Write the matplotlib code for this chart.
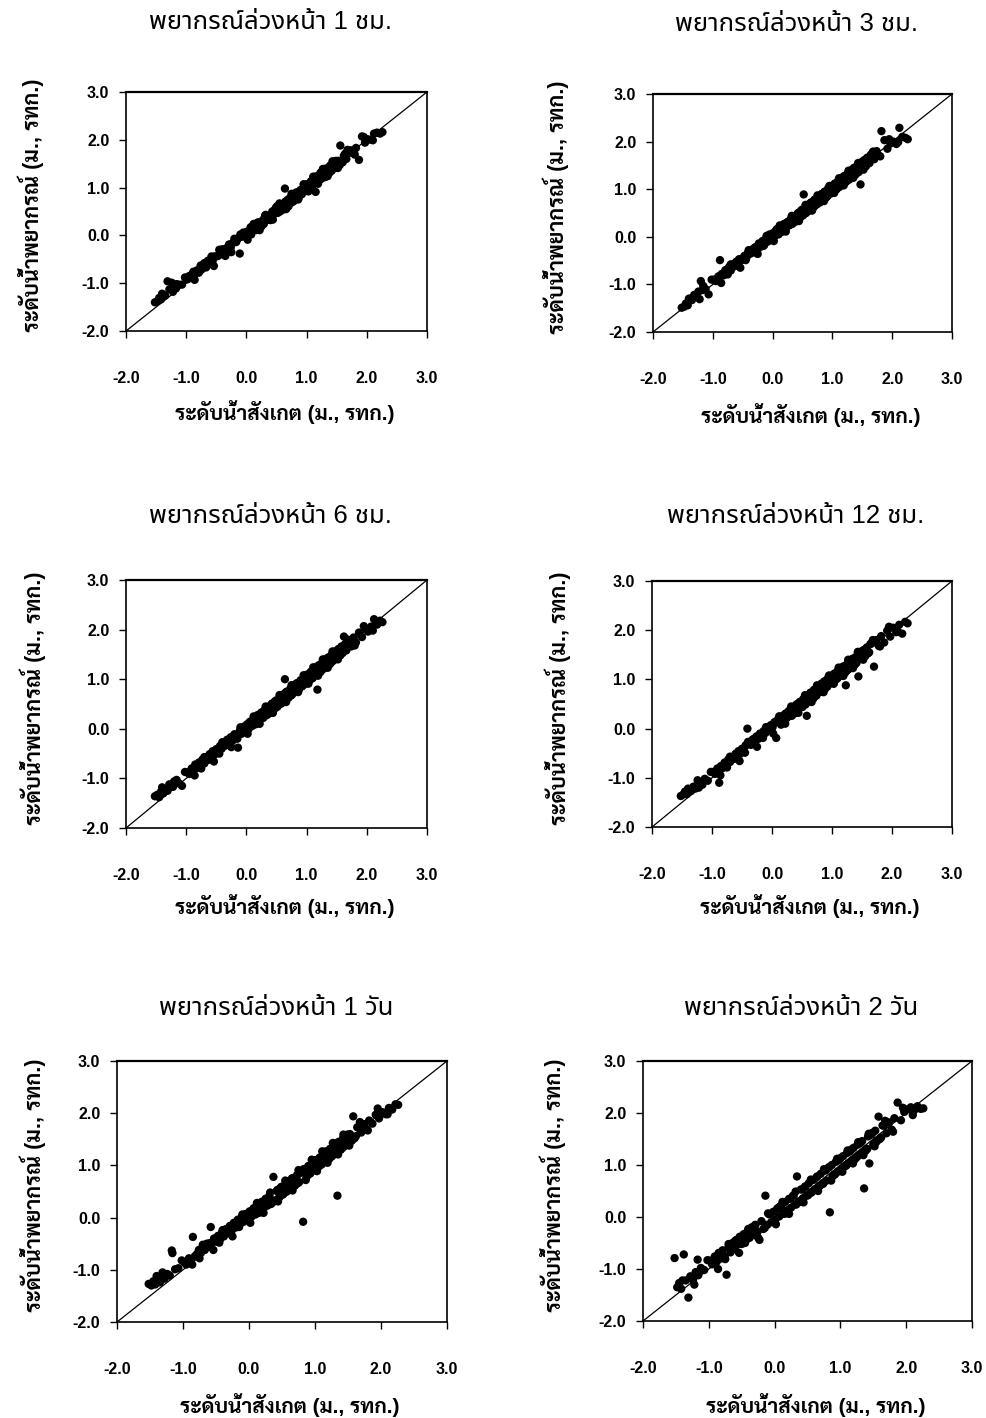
import matplotlib
matplotlib.use("Agg")
import matplotlib.pyplot as plt

# Observed water level (m, MSL) shared by all forecast horizons
obs_level = [
    -1.52, -1.48, -1.45, -1.42, -1.38, -1.35, -1.31, -1.28, -1.24, -1.20, -1.17, -1.16, -1.12, -1.07,
    -0.98, -0.95, -0.91, -0.88, -0.85, -0.82, -0.79, -0.76, -0.73, -0.70, -0.67, -0.64, -0.61, -0.58, -0.56, -0.53, -0.50,
    -0.47, -0.44, -0.41, -0.38, -0.35, -0.32, -0.29, -0.26, -0.23, -0.20, -0.17, -0.14, -0.11, -0.08, -0.05, -0.02,
    0.01, 0.04, 0.07, 0.10, 0.13, 0.16, 0.19, 0.22, 0.25, 0.28, 0.31, 0.34, 0.37, 0.40, 0.43, 0.46, 0.49,
    0.52, 0.55, 0.58, 0.61, 0.64, 0.67, 0.70, 0.73, 0.76, 0.79, 0.82, 0.84, 0.87, 0.90, 0.93, 0.96, 0.99,
    1.02, 1.04, 1.07, 1.10, 1.12, 1.15, 1.18, 1.20, 1.23, 1.26, 1.28, 1.31, 1.34, 1.36, 1.39, 1.42, 1.44, 1.47, 1.50,
    1.53, 1.56, 1.58, 1.62, 1.66, 1.70, 1.74, 1.78, 1.82, 1.87, 1.92, 1.97,
    2.02, 2.07, 2.12, 2.17, 2.22, 2.26,
    0.05, 0.15, 0.24, 0.33, 0.42, 0.51, 0.60, 0.69, 0.78, 0.88, 0.97, 1.05, 1.14, 1.22, 1.30, 1.38, 1.46, 1.55, 1.64,
    -0.90, -0.75, -0.60, -0.45, -0.30, -0.15,
    0.08, 0.20, 0.29, 0.38, 0.47, 0.56, 0.65, 0.74, 0.83, 0.92, 1.00, 1.09, 1.17, 1.25, 1.33, 1.41, 1.49, 1.60, -0.35, -0.65,
    -1.40, -1.22, -1.02, -0.86, -0.70, -0.54, -0.40, -0.25, -0.10, 0.02, 0.12, 0.22, 0.32, 0.44, 0.55,
    0.66, 0.75, 0.86, 0.95, 1.03, 1.11, 1.19, 1.27, 1.35, 1.43, 1.52, 1.68, 1.80, 1.95, 2.10,
]

# Forecast water level for each lead time (same order as obs_level)
fc_1h = [
    -1.40, -1.38, -1.31, -1.34, -1.25, -1.26, -0.96, -1.13, -0.99, -1.09, -1.11, -1.02, -1.03, -1.03,
    -0.92, -0.85, -0.89, -0.76, -0.80, -0.73, -0.78, -0.63, -0.69, -0.62, -0.67, -0.53, -0.56, -0.44, -0.53, -0.44, -0.44,
    -0.43, -0.32, -0.39, -0.30, -0.43, -0.26, -0.19, -0.25, -0.16, -0.07, -0.14, -0.06, -0.38, -0.03, 0.06, 0.00,
    0.08, 0.01, 0.17, 0.11, 0.19, 0.11, 0.27, 0.24, 0.19, 0.33, 0.41, 0.32, 0.41, 0.32, 0.50, 0.45, 0.58,
    0.47, 0.61, 0.60, 0.54, 0.98, 0.70, 0.61, 0.79, 0.74, 0.87, 0.77, 0.87, 0.79, 0.95, 0.90, 1.03, 0.93,
    1.06, 0.97, 1.13, 1.08, 1.17, 0.91, 1.21, 1.14, 1.31, 1.22, 1.30, 1.22, 1.39, 1.33, 1.46, 1.36, 1.54, 1.45, 1.42,
    1.56, 1.88, 1.54, 1.67, 1.60, 1.72, 1.78, 1.73, 1.83, 1.58, 2.07, 1.94,
    2.01, 2.00, 2.13, 2.15, 2.13, 2.16,
    0.08, 0.24, 0.20, 0.40, 0.39, 0.61, 0.56, 0.75, 0.71, 0.92, 1.06, 1.01, 1.21, 1.17, 1.39, 1.31, 1.50, 1.47, 1.71,
    -0.81, -0.72, -0.52, -0.30, -0.27, -0.08,
    0.02, 0.27, 0.24, 0.33, 0.53, 0.50, 0.71, 0.68, 0.90, 0.86, 1.07, 1.02, 1.24, 1.19, 1.40, 1.35, 1.56, 1.53, -0.29, -0.60,
    -1.22, -1.18, -0.88, -0.93, -0.58, -0.64, -0.29, -0.35, 0.02, -0.09, 0.24, 0.11, 0.43, 0.33, 0.67,
    0.55, 0.87, 0.75, 1.07, 0.92, 1.23, 1.08, 1.39, 1.24, 1.55, 1.41, 1.79, 1.69, 2.06, 1.99,
]
fc_3h = [
    -1.49, -1.47, -1.40, -1.44, -1.30, -1.33, -1.22, -1.26, -1.15, -0.93, -1.12, -1.03, -1.10, -1.21,
    -0.90, -0.93, -0.84, -0.49, -0.78, -0.81, -0.70, -0.74, -0.64, -0.71, -0.58, -0.62, -0.53, -0.60, -0.47, -0.50, -0.45,
    -0.40, -0.45, -0.33, -0.36, -0.27, -0.33, -0.22, -0.30, -0.14, -0.21, -0.09, -0.17, -0.03, -0.10, 0.05, -0.01,
    0.08, 0.02, 0.16, 0.05, 0.21, 0.12, 0.27, 0.17, 0.31, 0.24, 0.38, 0.29, 0.44, 0.33, 0.50, 0.40, 0.57,
    0.89, 0.50, 0.66, 0.55, 0.72, 0.60, 0.78, 0.68, 0.84, 0.72, 0.90, 0.78, 0.95, 0.83, 1.02, 0.90, 1.07,
    0.96, 1.12, 1.00, 1.18, 1.05, 1.24, 1.11, 1.28, 1.16, 1.34, 1.20, 1.39, 1.27, 1.45, 1.31, 1.50, 1.36, 1.10, 1.44,
    1.61, 1.48, 1.66, 1.55, 1.74, 1.63, 1.80, 1.70, 2.22, 2.03, 1.85, 1.96,
    2.00, 1.95, 2.29, 2.10, 2.08, 2.05,
    0.12, 0.10, 0.30, 0.27, 0.49, 0.45, 0.68, 0.63, 0.86, 0.81, 1.05, 0.99, 1.22, 1.15, 1.38, 1.32, 1.54, 1.49, 1.72,
    -0.83, -0.79, -0.52, -0.49, -0.23, -0.19,
    0.15, 0.14, 0.35, 0.32, 0.54, 0.50, 0.72, 0.68, 0.90, 0.86, 1.07, 1.03, 1.24, 1.19, 1.41, 1.35, 1.57, 1.54, -0.30, -0.60,
    -1.30, -1.31, -0.90, -0.97, -0.58, -0.65, -0.28, -0.36, 0.02, -0.09, 0.24, 0.11, 0.44, 0.33, 0.67,
    0.55, 0.87, 0.75, 1.07, 0.92, 1.23, 1.08, 1.39, 1.24, 1.55, 1.41, 1.79, 1.69, 2.05, 1.99,
]
fc_6h = [
    -1.36, -1.33, -1.38, -1.27, -1.30, -1.22, -1.25, -1.12, -1.17, -1.06, -1.08, -1.03, -1.10, -1.15,
    -0.88, -0.91, -0.80, -0.84, -0.72, -0.79, -0.68, -0.74, -0.62, -0.70, -0.57, -0.63, -0.51, -0.59, -0.45, -0.52, -0.41,
    -0.44, -0.35, -0.40, -0.28, -0.34, -0.22, -0.29, -0.17, -0.24, -0.11, -0.18, -0.38, -0.04, -0.10, 0.04, -0.03,
    0.09, 0.00, 0.15, 0.06, 0.23, 0.11, 0.28, 0.17, 0.33, 0.22, 0.39, 0.28, 0.45, 0.34, 0.51, 0.39, 0.57,
    0.46, 0.63, 0.51, 0.69, 1.00, 0.75, 0.63, 0.81, 0.69, 0.87, 0.75, 0.92, 0.80, 0.98, 0.86, 1.04, 0.91,
    1.10, 0.97, 1.15, 1.02, 1.21, 1.08, 0.79, 1.28, 1.15, 1.34, 1.21, 1.39, 1.26, 1.44, 1.31, 1.50, 1.37, 1.54, 1.42,
    1.61, 1.48, 1.66, 1.86, 1.58, 1.78, 1.66, 1.84, 1.74, 1.94, 1.85, 2.03,
    1.96, 2.06, 2.21, 2.10, 2.18, 2.15,
    0.13, 0.09, 0.31, 0.27, 0.50, 0.44, 0.68, 0.62, 0.86, 0.81, 1.05, 0.98, 1.23, 1.14, 1.38, 1.30, 1.55, 1.48, 1.71,
    -0.82, -0.80, -0.52, -0.50, -0.22, -0.20,
    0.14, 0.13, 0.36, 0.31, 0.55, 0.50, 0.73, 0.67, 0.91, 0.86, 1.08, 1.02, 1.25, 1.18, 1.41, 1.34, 1.57, 1.53, -0.29, -0.59,
    -1.18, -1.17, -0.87, -0.94, -0.57, -0.66, -0.27, -0.37, 0.03, -0.10, 0.25, 0.10, 0.45, 0.32, 0.68,
    0.54, 0.88, 0.74, 1.08, 0.91, 1.24, 1.07, 1.40, 1.23, 1.56, 1.40, 1.80, 1.68, 2.07, 1.98,
]
fc_12h = [
    -1.37, -1.34, -1.28, -1.33, -1.24, -1.27, -1.18, -1.22, -1.05, -1.15, -1.08, -1.14, -1.02, -1.06,
    -0.88, -0.92, -0.81, -1.10, -0.76, -0.80, -0.69, -0.73, -0.63, -0.68, -0.58, -0.62, -0.52, -0.57, -0.46, -0.51, -0.41,
    -0.45, -0.34, 0.00, -0.29, -0.33, -0.22, -0.27, -0.16, -0.21, -0.10, -0.15, -0.05, -0.09, 0.02, -0.02, 0.07,
    0.03, 0.13, -0.19, 0.19, 0.12, 0.25, 0.17, 0.30, 0.22, 0.36, 0.27, 0.42, 0.33, 0.48, 0.38, 0.54, 0.44,
    0.60, 0.50, 0.26, 0.56, 0.73, 0.62, 0.79, 0.68, 0.85, 0.74, 0.91, 0.79, 0.96, 0.85, 1.02, 0.91, 1.07,
    0.96, 1.12, 1.01, 1.18, 1.06, 1.23, 1.11, 1.27, 0.88, 1.33, 1.21, 1.38, 1.27, 1.43, 1.32, 1.49, 1.06, 1.53, 1.43,
    1.60, 1.49, 1.65, 1.55, 1.73, 1.26, 1.80, 1.68, 1.88, 1.75, 1.99, 1.87,
    2.05, 1.96, 2.11, 1.93, 2.17, 2.14,
    0.12, 0.08, 0.31, 0.26, 0.50, 0.44, 0.68, 0.61, 0.86, 0.80, 1.05, 0.98, 1.22, 1.14, 1.38, 1.30, 1.55, 1.47, 1.72,
    -0.82, -0.79, -0.51, -0.49, -0.21, -0.19,
    0.14, 0.13, 0.35, 0.31, 0.54, 0.49, 0.73, 0.67, 0.91, 0.85, 1.08, 1.02, 1.25, 1.18, 1.41, 1.34, 1.57, 1.53, -0.29, -0.60,
    -1.22, -1.20, -0.88, -0.95, -0.57, -0.66, -0.27, -0.37, 0.03, -0.10, 0.25, 0.10, 0.45, 0.32, 0.68,
    0.54, 0.88, 0.74, 1.08, 0.91, 1.24, 1.07, 1.40, 1.23, 1.56, 1.40, 1.80, 1.67, 2.07, 1.97,
]
fc_1d = [
    -1.27, -1.30, -1.22, -1.28, -1.18, -1.24, -1.05, -1.17, -1.08, -1.11, -0.63, -0.68, -0.99, -0.97,
    -0.86, -0.90, -0.78, -0.82, -0.37, -0.74, -0.70, -0.62, -0.68, -0.56, -0.62, -0.50, -0.56, -0.18, -0.48, -0.40, -0.46,
    -0.35, -0.42, -0.29, -0.36, -0.22, -0.30, -0.16, -0.24, -0.10, -0.19, -0.04, -0.13, 0.01, -0.08, 0.07, -0.03,
    0.12, 0.02, 0.18, 0.06, 0.24, 0.11, 0.30, 0.17, 0.36, 0.23, 0.41, 0.27, 0.78, 0.33, 0.53, 0.39, 0.59,
    0.45, 0.64, 0.51, 0.70, 0.56, 0.76, 0.62, 0.82, 0.68, 0.88, -0.08, 0.93, 0.78, 0.99, 0.85, 1.04, 0.91,
    1.10, 0.96, 1.15, 1.02, 1.21, 1.07, 1.26, 1.12, 1.32, 1.18, 1.37, 1.22, 0.42, 1.45, 1.30, 1.51, 1.36, 1.55, 1.42,
    1.60, 1.48, 1.94, 1.56, 1.72, 1.63, 1.79, 1.70, 1.86, 1.80, 1.97, 1.90,
    2.02, 1.98, 2.10, 2.07, 2.17, 2.16,
    0.13, 0.09, 0.32, 0.26, 0.51, 0.44, 0.69, 0.61, 0.87, 0.80, 1.06, 0.97, 1.23, 1.13, 1.39, 1.30, 1.56, 1.47, 1.73,
    -0.80, -0.78, -0.49, -0.48, -0.19, -0.18,
    0.17, 0.14, 0.38, 0.31, 0.56, 0.49, 0.75, 0.66, 0.93, 0.84, 1.10, 1.01, 1.27, 1.17, 1.43, 1.33, 1.59, 1.52, -0.26, -0.56,
    -1.12, -1.10, -0.82, -0.90, -0.52, -0.62, -0.24, -0.36, 0.06, -0.10, 0.28, 0.09, 0.48, 0.31, 0.71,
    0.52, 0.91, 0.72, 1.11, 0.89, 1.27, 1.05, 1.43, 1.21, 1.59, 1.38, 1.83, 1.67, 2.09, 1.98,
]
fc_2d = [
    -0.79, -1.35, -1.27, -1.38, -0.72, -1.22, -1.55, -1.14, -1.21, -1.06, -0.82, -1.12, -0.98, -1.02,
    -0.84, -0.91, -0.76, -0.86, -0.69, -0.80, -0.64, -0.75, -1.11, -0.58, -0.68, -0.50, -0.62, -0.44, -0.53, -0.38, -0.52,
    -0.33, -0.46, -0.27, -0.40, -0.20, -0.34, -0.15, -0.29, -0.44, -0.08, -0.23, 0.41, -0.15, 0.05, -0.10, 0.10,
    -0.05, 0.16, 0.01, 0.22, 0.07, 0.29, 0.13, 0.35, 0.18, 0.41, 0.24, 0.78, 0.30, 0.53, 0.36, 0.58, 0.41,
    0.65, 0.47, 0.71, 0.53, 0.77, 0.58, 0.83, 0.64, 0.89, 0.70, 0.95, 0.09, 1.00, 0.81, 1.06, 0.87, 1.12,
    0.93, 1.17, 0.98, 1.23, 1.03, 1.28, 1.09, 1.33, 1.14, 1.39, 1.19, 1.44, 1.24, 0.55, 1.30, 1.55, 1.03, 1.60, 1.40,
    1.66, 1.47, 1.93, 1.53, 1.76, 1.61, 1.82, 1.68, 1.90, 2.20, 1.86, 2.02,
    2.07, 2.11, 2.05, 2.13, 2.08, 2.09,
    0.17, 0.06, 0.35, 0.24, 0.53, 0.42, 0.72, 0.60, 0.90, 0.78, 1.09, 0.96, 1.26, 1.11, 1.42, 1.27, 1.58, 1.45, 1.76,
    -0.77, -0.81, -0.46, -0.50, -0.16, -0.21,
    0.20, 0.12, 0.41, 0.29, 0.59, 0.47, 0.78, 0.64, 0.96, 0.82, 1.13, 0.99, 1.30, 1.15, 1.46, 1.31, 1.62, 1.50, -0.24, -0.58,
    -1.22, -1.30, -0.83, -1.00, -0.52, -0.69, -0.23, -0.40, 0.07, -0.14, 0.29, 0.06, 0.49, 0.28, 0.72,
    0.50, 0.92, 0.70, 1.12, 0.87, 1.28, 1.03, 1.44, 1.19, 1.60, 1.36, 1.85, 1.64, 2.10, 1.96,
]

titles = [
    "พยากรณ์ล่วงหน้า 1 ชม.",
    "พยากรณ์ล่วงหน้า 3 ชม.",
    "พยากรณ์ล่วงหน้า 6 ชม.",
    "พยากรณ์ล่วงหน้า 12 ชม.",
    "พยากรณ์ล่วงหน้า 1 วัน",
    "พยากรณ์ล่วงหน้า 2 วัน",
]
forecasts = [fc_1h, fc_3h, fc_6h, fc_12h, fc_1d, fc_2d]
x_label = "ระดับน้ำสังเกต (ม., รทก.)"
y_label = "ระดับน้ำพยากรณ์ (ม., รทก.)"
axis_ticks = [-2.0, -1.0, 0.0, 1.0, 2.0, 3.0]

W, H = 987, 1418
TITLE_FONT = ["Liberation Sans", "Noto Sans Thai"]
LABEL_FONT = ["Liberation Sans", "Sarabun"]

# panel frames in pixels: left, right, top, bottom, title y, x-label y, y-label x
panels = [
    (126, 427, 92, 331, 22, 412, 31),
    (653, 952, 94, 332, 24, 415, 556),
    (126, 427, 580, 828, 516, 906, 33),
    (652, 952, 581, 827, 516, 906, 558),
    (117, 447, 1061, 1322, 1008, 1405, 33),
    (643, 972, 1061, 1321, 1008, 1405, 553),
]

fig = plt.figure(figsize=(W / 100, H / 100), dpi=100)
fig.patch.set_facecolor("white")

for (l, r, t, b, ty, xly, ylx), fc, title in zip(panels, forecasts, titles):
    ax = fig.add_axes([l / W, 1 - b / H, (r - l) / W, (b - t) / H])
    ax.scatter(obs_level, fc, s=36, color="black", edgecolors="none", zorder=3)
    ax.plot([axis_ticks[0], axis_ticks[-1]], [axis_ticks[0], axis_ticks[-1]],
            color="black", lw=0.9, zorder=2)
    ax.set_xlim(axis_ticks[0], axis_ticks[-1])
    ax.set_ylim(axis_ticks[0], axis_ticks[-1])
    ax.set_xticks(axis_ticks)
    ax.set_yticks(axis_ticks)
    ax.set_xticklabels([f"{v:.1f}" for v in axis_ticks])
    ax.set_yticklabels([f"{v:.1f}" for v in axis_ticks])
    ax.tick_params(axis="x", direction="out", length=5.0, width=1.0, pad=24,
                   labelsize=11.5, colors="black")
    ax.tick_params(axis="y", direction="out", length=5.0, width=1.0, pad=7,
                   labelsize=11.5, colors="black")
    for lab in ax.get_xticklabels() + ax.get_yticklabels():
        lab.set_fontfamily("Liberation Sans")
        lab.set_fontweight("bold")
    for sp in ax.spines.values():
        sp.set_linewidth(1.2)
        sp.set_color("black")
    ax.spines["top"].set_linewidth(1.6)

    cx = (l + r) / 2
    fig.text((cx - 6) / W, 1 - ty / H, title, ha="center", va="center",
             fontsize=18.5, family=TITLE_FONT)
    fig.text((cx + 8) / W, 1 - xly / H, x_label, ha="center", va="center",
             fontsize=15, weight="bold", family=LABEL_FONT)
    fig.text(ylx / W, 1 - ((t + b) / 2 - 6) / H, y_label, ha="center", va="center",
             rotation=90, fontsize=15.5, weight="bold", family=LABEL_FONT)

fig.savefig("out.png", dpi=100, facecolor="white")
